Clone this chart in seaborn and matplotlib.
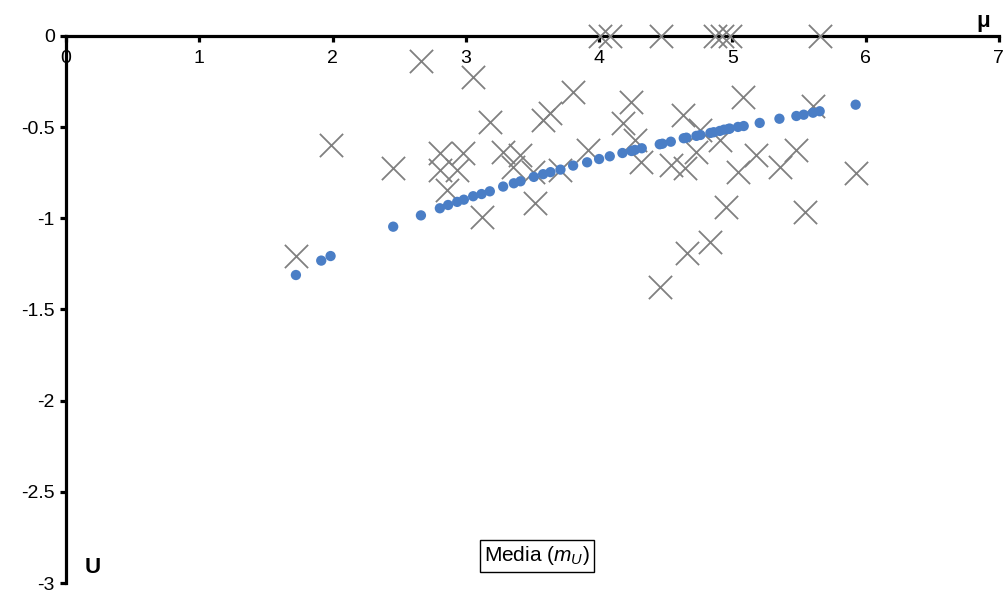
import numpy as np
import pandas as pd
import matplotlib
matplotlib.use("Agg")
import matplotlib.pyplot as plt
import seaborn as sns

# media m_U (blue dots)
mu_media = [1.725, 1.915, 1.985, 2.455, 2.663, 2.805, 2.867, 2.935, 2.985, 3.055,
            3.118, 3.180, 3.280, 3.360, 3.410, 3.510, 3.580, 3.635, 3.710, 3.805,
            3.910, 4.000, 4.080, 4.175, 4.243, 4.268, 4.320, 4.455, 4.475, 4.538,
            4.635, 4.655, 4.730, 4.760, 4.835, 4.860, 4.905, 4.937, 4.970, 4.980,
            5.042, 5.085, 5.205, 5.353, 5.480, 5.535, 5.605, 5.655, 5.925]
u_media = [-1.311, -1.232, -1.207, -1.046, -0.984, -0.945, -0.927, -0.910, -0.898, -0.879,
           -0.867, -0.852, -0.826, -0.808, -0.797, -0.773, -0.758, -0.747, -0.733, -0.711,
           -0.693, -0.675, -0.660, -0.642, -0.631, -0.625, -0.616, -0.594, -0.591, -0.580,
           -0.561, -0.558, -0.548, -0.543, -0.532, -0.528, -0.521, -0.514, -0.510, -0.508,
           -0.499, -0.494, -0.477, -0.454, -0.439, -0.432, -0.421, -0.413, -0.377]

# observed U values (gray crosses)
mu_obs = [1.725, 1.988, 2.455, 2.663, 3.055, 3.180, 2.805, 2.980, 2.805, 2.930,
          2.855, 3.118, 3.280, 3.405, 3.355, 3.505, 3.518, 3.580, 3.630, 3.705,
          3.805, 3.913, 4.005, 4.080, 4.468, 4.868, 4.920, 4.980, 5.655, 4.180,
          4.243, 4.268, 4.318, 4.630, 4.755, 4.730, 4.543, 4.643, 4.905, 5.042,
          5.080, 5.180, 5.355, 5.480, 5.605, 5.925, 4.950, 5.543, 4.835, 4.663,
          4.455]
u_obs = [-1.207, -0.598, -0.726, -0.137, -0.227, -0.473, -0.643, -0.643, -0.735, -0.735,
         -0.845, -0.991, -0.635, -0.653, -0.717, -0.744, -0.918, -0.461, -0.424, -0.735,
         -0.305, -0.625, 0.0, 0.0, 0.0, 0.0, 0.0, 0.0, 0.0, -0.479,
         -0.360, -0.570, -0.689, -0.433, -0.516, -0.635, -0.708, -0.726, -0.570, -0.744,
         -0.333, -0.653, -0.717, -0.625, -0.384, -0.750, -0.936, -0.963, -1.128, -1.192,
         -1.375]

x_ticks = [0, 1, 2, 3, 4, 5, 6, 7]
y_ticks = [0, -0.5, -1, -1.5, -2, -2.5, -3]
y_labels = ["0", "-0.5", "-1", "-1.5", "-2", "-2.5", "-3"]

sns.set_style("white")
plt.rcParams['font.family'] = ['Liberation Sans', 'DejaVu Sans']
plt.rcParams['text.color'] = 'black'
plt.rcParams['mathtext.fontset'] = 'custom'
plt.rcParams['mathtext.rm'] = 'Liberation Sans'
plt.rcParams['mathtext.it'] = 'Liberation Sans:italic'

df_obs = pd.DataFrame({'mu': mu_obs, 'U': u_obs})
df_med = pd.DataFrame({'mu': mu_media, 'U': u_media})

fig = plt.figure(figsize=(10.08, 5.94), dpi=100)
ax = fig.add_axes([0.0655, 0.0185, 0.9255, 0.921])

sns.scatterplot(data=df_obs, x='mu', y='U', marker='x', s=280, color='#808080',
                linewidth=1.3, ax=ax, zorder=3, clip_on=False)
sns.scatterplot(data=df_med, x='mu', y='U', marker='o', s=55, color='#4a7ec6',
                edgecolor='none', ax=ax, zorder=4, clip_on=False)

ax.set_xlim(0, 7)
ax.set_ylim(-3, 0)
ax.set_xticks(x_ticks)
ax.set_yticks(y_ticks)
ax.set_yticklabels(y_labels)
ax.set_xlabel('')
ax.set_ylabel('')

ax.spines['bottom'].set_position(('data', 0))
ax.spines['top'].set_visible(False)
ax.spines['right'].set_visible(False)
for s in ['bottom', 'left']:
    ax.spines[s].set_linewidth(2.3)
    ax.spines[s].set_color('black')
    ax.spines[s].set_zorder(2)
ax.tick_params(axis='both', direction='out', length=4, width=2.3, labelsize=14,
               colors='black', bottom=True, left=True, pad=4)
ax.tick_params(axis='x', pad=6)

fig.text(0.975, 0.963, 'μ', fontsize=16, fontweight='bold', color='black', ha='center', va='center')
fig.text(0.092, 0.045, 'U', fontsize=16, fontweight='bold', color='black', ha='center', va='center')
fig.text(0.533, 0.064, r'Media $\mathit{(m_U)}$', fontsize=15, color='black', ha='center', va='center',
         bbox=dict(boxstyle='square,pad=0.2', facecolor='white', edgecolor='black', linewidth=1))

fig.savefig('out.png', dpi=100)
